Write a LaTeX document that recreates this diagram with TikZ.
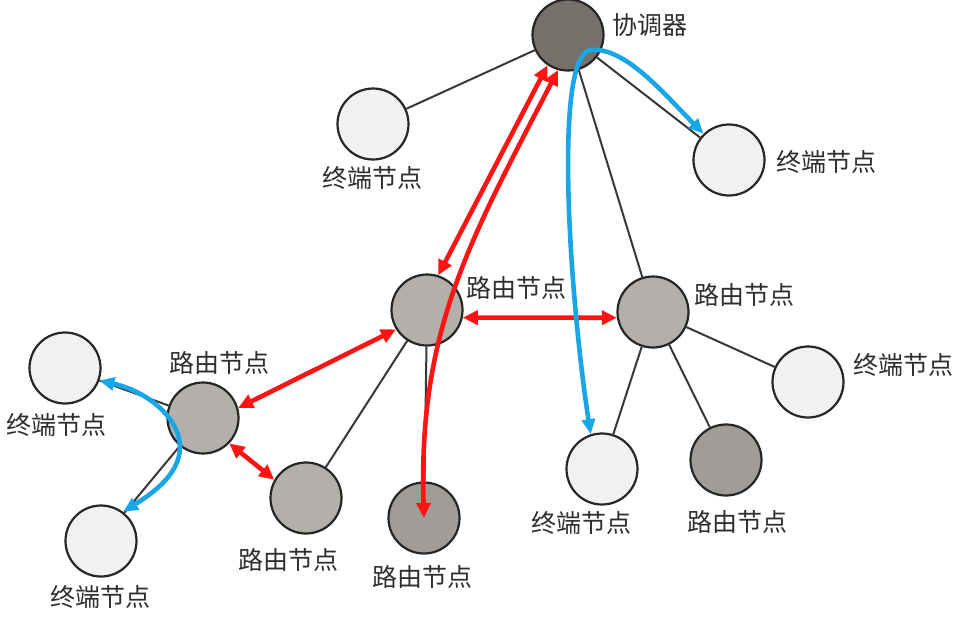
\documentclass[tikz,border=0pt]{standalone}
\usepackage{fontspec}
\setmainfont{Noto Sans CJK SC}
\usetikzlibrary{arrows.meta}
\definecolor{coordfill}{HTML}{757069}
\definecolor{routerfill}{HTML}{B3B0AC}
\definecolor{routerdark}{HTML}{A09C98}
\definecolor{termfill}{HTML}{F1F1F1}
\definecolor{redarrow}{HTML}{FF1414}
\definecolor{bluearrow}{HTML}{18A6E6}
\definecolor{txt}{HTML}{2E2E2E}
\tikzset{
  nodebase/.style={circle,draw=black!85,line width=2.2pt,minimum size=71pt,inner sep=0pt},
  coordnode/.style={nodebase,fill=coordfill},
  routernode/.style={nodebase,fill=routerfill},
  routerdarknode/.style={nodebase,fill=routerdark},
  termnode/.style={nodebase,fill=termfill},
  lbl/.style={text=txt,font=\fontsize{25}{30}\selectfont,inner sep=0pt},
  link/.style={line width=2pt,draw=black!78},
  redlink/.style={line width=4.6pt,draw=redarrow,{Triangle[length=15pt,width=14pt]}-{Triangle[length=15pt,width=14pt]}},
  bluelink/.style={line width=4.6pt,draw=bluearrow,{Triangle[length=15pt,width=13pt]}-{Triangle[length=15pt,width=13pt]}}
}
\begin{document}
\begin{tikzpicture}[x=1pt,y=-1pt]
\useasboundingbox[fill=white] (0,0) rectangle (961,622);
% nodes
\node[coordnode] (coord) at (568,35) {};
\node[termnode] (tTL) at (373,124) {};
\node[termnode] (tTR) at (729,160) {};
\node[routernode] (rA) at (427,310) {};
\node[routernode] (rB) at (653,312) {};
\node[termnode] (tR) at (808,382) {};
\node[termnode] (tB) at (602,469) {};
\node[routerdarknode] (rBR) at (726,460) {};
\node[routerdarknode] (rBot) at (424,518) {};
\node[termnode] (tL) at (65,368) {};
\node[routernode] (rL) at (203,418) {};
\node[termnode] (tBL) at (101,541) {};
\node[routernode] (rM) at (306,498) {};
% labels
\node[lbl] (lcoord) at (650,25) {协调器};
\node[lbl] (ltTL) at (372,178) {终端节点};
\node[lbl] (ltTR) at (826,162) {终端节点};
\node[lbl] (lrA) at (516,288) {路由节点};
\node[lbl] (lrB) at (744,295) {路由节点};
\node[lbl] (ltR) at (903,365) {终端节点};
\node[lbl] (ltB) at (581,523) {终端节点};
\node[lbl] (lrBR) at (737,522) {路由节点};
\node[lbl] (lrBot) at (422,577) {路由节点};
\node[lbl] (ltL) at (56,425) {终端节点};
\node[lbl] (lrL) at (219,363) {路由节点};
\node[lbl] (ltBL) at (100,597) {终端节点};
\node[lbl] (lrM) at (288,560) {路由节点};
% black links
\draw[link] (coord) -- (tTL);
\draw[link] (coord) -- (tTR);
\draw[link] (coord) -- (rB);
\draw[link] (rB) -- (tB);
\draw[link] (rB) -- (rBR);
\draw[link] (rB) -- (tR);
\draw[link] (rA) -- (rM);
\draw[link] (rA) -- (rBot);
\draw[link] (rL) -- (tL);
\draw[link] (rL) -- (tBL);
% red arrows
\draw[redlink] (rA.72) -- (coord.236);
\draw[redlink] (coord.254) .. controls (470,240) and (418,330) .. (rBot.center);
\draw[redlink] (rA.-12) -- (rB.189);
\draw[redlink] (rA.212) -- (rL.16);
\draw[redlink] (rL.-44) -- (rM.150);
% blue arrows
\coordinate (btop) at (590,50);
\coordinate (bleft) at (180,447);
\draw[bluelink] (tB.108) .. controls (570,300) and (553,58) .. (btop) .. controls (625,46) and (665,95) .. (tTR.134);
\draw[bluelink] (tL.-20) .. controls (150,392) and (180,420) .. (bleft) .. controls (180,475) and (150,495) .. (tBL.53);
\end{tikzpicture}
\end{document}
